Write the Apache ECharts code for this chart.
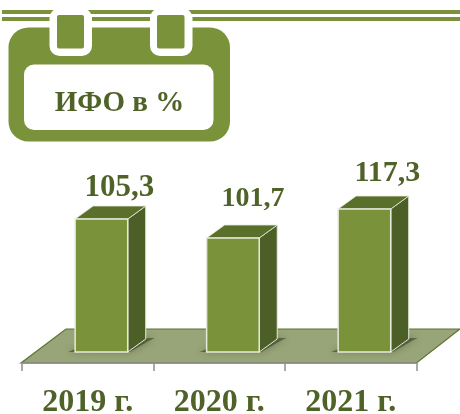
<!DOCTYPE html>
<html><head><meta charset="utf-8">
<style>html,body{margin:0;padding:0;background:#fff}#c{width:460px;height:414px}</style>
<script src="https://cdn.jsdelivr.net/npm/echarts@6/dist/echarts.min.js"></script>
</head><body><div id="c"></div>
<script>
const titleText = 'ИФО в %';
const categories = ['2019 г.', '2020 г.', '2021 г.'];
const labelValues = ['105,3', '101,7', '117,3'];
// Bar heights as drawn in the picture (the reference is not to scale with its labels).
const drawnHeights = [144, 125, 154];
const labelFontSizes = [31, 28, 30];
const labelDx = [18, 20, 23];
const labelDy = [16, 25, 21];

const GREEN = '#7A933B', DARK = '#4F6228', TOP = '#5A6F2A', SIDE = '#4C5F26', FLOOR = '#98A578';
const SERIF = '"Liberation Serif","Times New Roman",serif';
const DX = 18, DY = 13, BASE = 11;

const rect = (x, y, w, h, r, fill, z) => ({type:'rect', silent:true, z:z, shape:{x,y,width:w,height:h,r}, style:{fill}});
const header = [
  rect(2, 10, 458, 4, 0, GREEN, 1),
  rect(2, 17, 458, 4, 0, GREEN, 1),
  rect(8.5, 27.5, 221.5, 114, 20, GREEN, 2),
  rect(24, 64.5, 189.5, 65.5, 10, '#fff', 3),
  rect(49.5, 8, 42.5, 48, 10, '#fff', 3),
  rect(150, 8, 42.5, 48, 10, '#fff', 3),
  rect(57, 15, 27, 33.5, 2, GREEN, 4),
  rect(157, 15, 27.5, 33.5, 2, GREEN, 4)
];

function poly(points, fill, extra) {
  return Object.assign({type:'polygon', shape:{points}, style:{fill}}, extra || {});
}

function renderFloor(params, api) {
  const s = params.coordSys, b = s.y + s.height, L = s.x, R = s.x + s.width;
  return poly([[L-1, b],[R, b],[R+43.5, b-34],[L+44, b-34]], FLOOR, {
    style:{fill:FLOOR, stroke:'#5E7335', lineWidth:1.2}
  });
}

function renderBar(params, api) {
  const i = api.value(0), c = api.coord([i, 0]), band = api.size([1, 0])[0];
  const w = band * 0.4, cx = c[0] + band * 0.104;
  const x0 = cx - w/2, x1 = cx + w/2;
  const yb = api.coord([i, BASE])[1], yt = api.coord([i, api.value(1)])[1];
  const edge = '#E6EADB';
  const shade = 'rgba(55,65,35,0.6)';
  return {type:'group', children:[
    poly([[x0-7,yb],[x1+2,yb],[x1+DX+3,yb-DY+2],[x1+DX+9,yb-DY-1],[x1,yb-DY-1],[x0,yb-3]], shade, {
      style:{fill:shade, shadowBlur:7, shadowColor:'rgba(55,65,35,0.75)'}
    }),
    poly([[x1,yb],[x1+DX,yb-DY],[x1+DX,yt-DY],[x1,yt]], SIDE, {style:{fill:SIDE, stroke:edge, lineWidth:1}}),
    poly([[x0,yt],[x1,yt],[x1+DX,yt-DY],[x0+DX,yt-DY]], TOP, {style:{fill:TOP, stroke:edge, lineWidth:0.8}}),
    {type:'rect', shape:{x:x0,y:yt,width:w,height:yb-yt}, style:{fill:GREEN, stroke:edge, lineWidth:1.5}},
    {type:'text', x:cx + labelDx[i], y:yt - labelDy[i], style:{
      text:labelValues[i], fill:DARK, font:'bold '+labelFontSizes[i]+'px '+SERIF,
      textAlign:'center', textVerticalAlign:'bottom'
    }}
  ]};
}

const chart = echarts.init(document.getElementById('c'), null, {renderer:'canvas'});
chart.setOption({
  animation:false,
  backgroundColor:'#fff',
  title:{text:titleText, left:114.5, top:84, textAlign:'center', z:10,
    textStyle:{fontFamily:SERIF, fontWeight:'bold', fontSize:29, color:DARK}},
  graphic:header,
  grid:{left:22, right:43.5, top:163, bottom:51, outerBoundsMode:'none'},
  xAxis:{type:'category', data:categories, z:5,
    axisLine:{show:true, lineStyle:{color:'#8E8E8E', width:1.5}},
    axisTick:{show:true, length:8, lineStyle:{color:'#8E8E8E', width:1.5}},
    axisLabel:{margin:24, fontFamily:SERIF, fontWeight:'bold', fontSize:32, color:DARK}},
  yAxis:{type:'value', min:0, max:200, show:false},
  series:[
    {type:'custom', silent:true, z:1, coordinateSystem:'cartesian2d', renderItem:renderFloor, data:[[0,0]], clip:false},
    {type:'custom', silent:true, z:2, coordinateSystem:'cartesian2d', renderItem:renderBar,
      encode:{x:0,y:1}, clip:false,
      data:categories.map((c,i)=>[i, drawnHeights[i]])}
  ]
});
</script></body></html>
